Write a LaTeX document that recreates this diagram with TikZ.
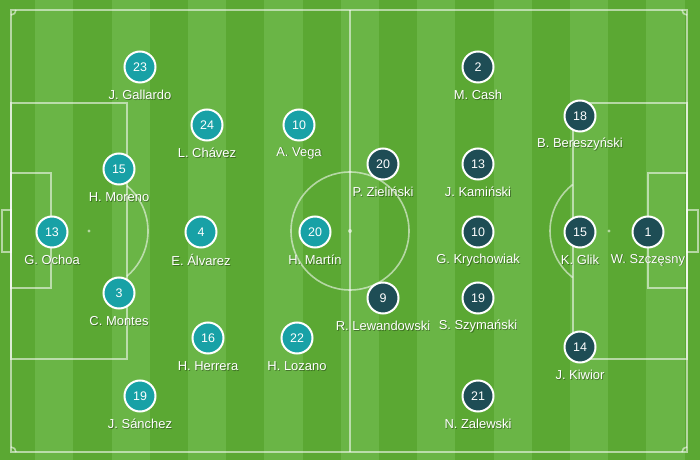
\documentclass[tikz,border=0pt]{standalone}
\usepackage{fontspec}
\setmainfont{Liberation Sans}
\definecolor{grassD}{RGB}{91,168,51}
\definecolor{grassL}{RGB}{106,181,70}
\definecolor{mexc}{RGB}{24,161,166}
\definecolor{polc}{RGB}{30,77,85}
\newcommand\plyr[6]{%
  \node[#4] (#1) at (#2,#3) {#5};
  \node[shadowtxt] (#1-s) at (#2+0.8,#3+28.8) {#6};
  \node[nametxt] (#1-l) at (#2,#3+28) {#6};
}
\begin{document}
\begin{tikzpicture}[x=1bp,y=-1bp,
  fieldline/.style={draw=white, draw opacity=0.55, line width=1.6bp},
  spot/.style={fill=white, fill opacity=0.55},
  mex/.style={circle, fill=mexc, draw=white, line width=2bp, minimum size=31bp, inner sep=0pt, text=white, font=\fontsize{12.5}{14}\selectfont},
  pol/.style={mex, fill=polc},
  nametxt/.style={text=white, font=\fontsize{13}{15}\selectfont, inner sep=0pt},
  shadowtxt/.style={nametxt, text=black, text opacity=0.35}]
\useasboundingbox (0,0) rectangle (700,460);
\begin{scope}
  \clip (0,0) rectangle (700,460);
  \fill[grassL] (0,0) rectangle (700,460);
  \foreach \k in {0,...,9}
    \fill[grassD] ({-3+76.4*\k},0) rectangle ({35.2+76.4*\k},460);
\end{scope}
% field lines
\draw[fieldline] (11,10) rectangle (687,452);
\draw[fieldline] (350,10) -- (350,452);
\draw[fieldline] (350,231) circle[radius=59];
\fill[spot] (350,231) circle[radius=2];
% left
\draw[fieldline] (11,103) rectangle (127,359);
\draw[fieldline] (11,173) rectangle (51,288);
\draw[fieldline] (2,210) rectangle (11,252);
\fill[spot] (89,231) circle[radius=1.6];
\draw[fieldline] ([shift={(-50:59)}]89,231) arc[start angle=-50,end angle=50,radius=59];
% right
\draw[fieldline] (573,103) rectangle (687,359);
\draw[fieldline] (648,173) rectangle (687,288);
\draw[fieldline] (687,210) rectangle (698,252);
\fill[spot] (609,231) circle[radius=1.6];
\draw[fieldline] ([shift={(128:59)}]609,231) arc[start angle=128,end angle=232,radius=59];
% corners
\draw[fieldline] (16,10) arc[start angle=0,end angle=90,radius=5];
\draw[fieldline] (687,15) arc[start angle=90,end angle=180,radius=5];
\draw[fieldline] (11,447) arc[start angle=-90,end angle=0,radius=5];
\draw[fieldline] (682,452) arc[start angle=180,end angle=270,radius=5];
% Mexico
\plyr{gallardo}{140}{67}{mex}{23}{J. Gallardo}
\plyr{chavez}{207}{125}{mex}{24}{L. Chávez}
\plyr{vega}{299}{125}{mex}{10}{A. Vega}
\plyr{moreno}{119}{169}{mex}{15}{H. Moreno}
\plyr{ochoa}{52}{232}{mex}{13}{G. Ochoa}
\plyr{alvarez}{201}{232}{mex}{4}{E. Álvarez}
\plyr{martin}{315}{232}{mex}{20}{H. Martín}
\plyr{montes}{119}{293}{mex}{3}{C. Montes}
\plyr{herrera}{208}{338}{mex}{16}{H. Herrera}
\plyr{lozano}{297}{338}{mex}{22}{H. Lozano}
\plyr{sanchez}{140}{396}{mex}{19}{J. Sánchez}
% Poland
\plyr{cash}{478}{67}{pol}{2}{M. Cash}
\plyr{bereszynski}{580}{116}{pol}{18}{B. Bereszyński}
\plyr{zielinski}{383}{164}{pol}{20}{P. Zieliński}
\plyr{kaminski}{478}{164}{pol}{13}{J. Kamiński}
\plyr{krychowiak}{478}{232}{pol}{10}{G. Krychowiak}
\plyr{glik}{580}{232}{pol}{15}{K. Glik}
\plyr{szczesny}{648}{232}{pol}{1}{W. Szczęsny}
\plyr{lewandowski}{383}{298}{pol}{9}{R. Lewandowski}
\plyr{szymanski}{478}{298}{pol}{19}{S. Szymański}
\plyr{kiwior}{580}{347}{pol}{14}{J. Kiwior}
\plyr{zalewski}{478}{396}{pol}{21}{N. Zalewski}
\end{tikzpicture}
\end{document}
